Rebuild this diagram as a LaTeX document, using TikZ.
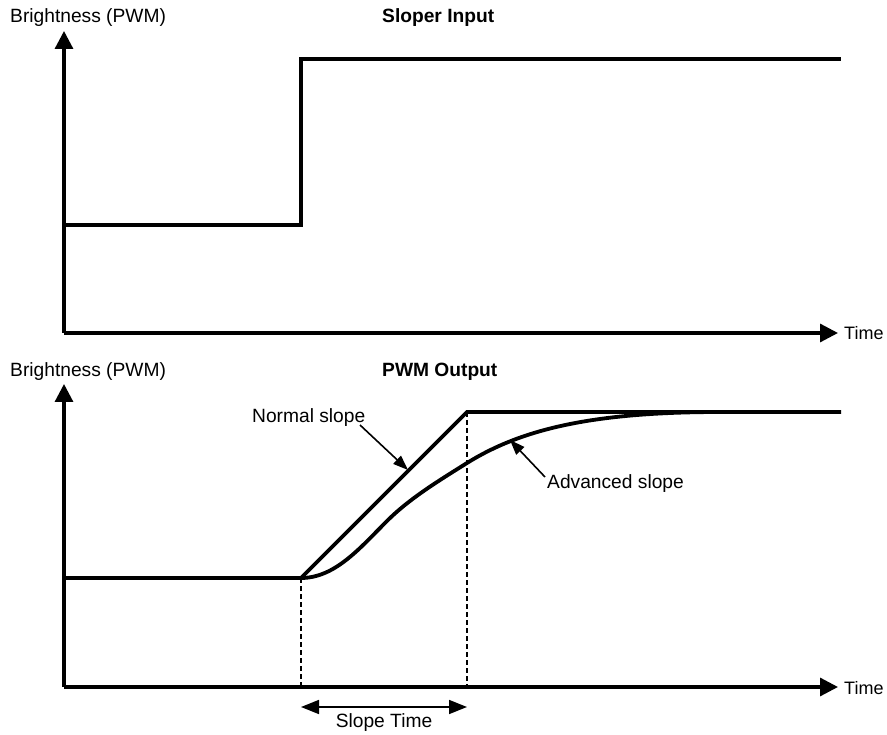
\documentclass[tikz,border=0pt]{standalone}
\usepackage{fontspec}
\setmainfont{Liberation Sans}
\usetikzlibrary{arrows.meta}
\begin{document}
\begin{tikzpicture}[x=1pt,y=-1pt,
  axis/.style={line width=3.2pt,line join=miter,-{Triangle[length=18pt,width=18pt]}},
  signal/.style={line width=3.8pt,line join=miter},
  guide/.style={line width=1.2pt,dash pattern=on 5pt off 3pt},
  callout/.style={line width=1.6pt,-{Triangle[length=15pt,width=11pt]}},
  span/.style={line width=1.6pt,{Triangle[length=18pt,width=14pt]}-{Triangle[length=18pt,width=14pt]}},
  lbl/.style={inner sep=0pt,anchor=base west,font=\fontsize{19.2}{22}\selectfont},
  ttl/.style={lbl,font=\fontsize{19.2}{22}\selectfont\bfseries},
  tlbl/.style={lbl,font=\fontsize{18}{22}\selectfont}]
\useasboundingbox (0,0) rectangle (887,735);

% ---------- upper chart: sloper input ----------
\coordinate (o1) at (64,333);
\coordinate (ytop1) at (64,31);
\coordinate (xend1) at (838,333);
\draw[axis] (o1) -- (ytop1);
\draw[axis] (o1) -- (xend1);
\node[lbl] (ylab1) at (10,23) {Brightness (PWM)};
\node[ttl] (title1) at (382,23) {Sloper Input};
\node[tlbl] (tlab1) at (844,340) {Time};
\draw[signal] (64,225) -- (301,225) -- (301,59) -- (841,59);

% ---------- lower chart: PWM output ----------
\coordinate (o2) at (64,687);
\coordinate (ytop2) at (64,384);
\coordinate (xend2) at (838,687);
\draw[axis] (o2) -- (ytop2);
\draw[axis] (o2) -- (xend2);
\node[lbl] (ylab2) at (10,377) {Brightness (PWM)};
\node[ttl] (title2) at (382,377) {PWM Output};
\node[tlbl] (tlab2) at (844,694) {Time};

\coordinate (s0) at (301,578);
\coordinate (s1) at (467,412);
% normal (linear) slope
\draw[signal] (64,578) -- (s0) -- (s1) -- (841,412);
% advanced (S-shaped) slope
\draw[signal] (s0) .. controls (335,578) and (360,548) .. (387,521)
  .. controls (410,498) and (440,480) .. (467,463)
  .. controls (520,430) and (590,412) .. (720,412);

% slope time markers
\coordinate (g0) at (301,687);
\coordinate (g1) at (467,687);
\draw[guide] (s0) -- (g0);
\draw[guide] (s1) -- (g1);
\coordinate (st0) at (301,707);
\coordinate (st1) at (467,707);
\draw[span] (st0) -- (st1);
\node[inner sep=0pt,anchor=base,font=\fontsize{19.2}{22}\selectfont] (stlab) at (384,727) {Slope Time};

% callouts
\node[lbl] (nlab) at (252,423) {Normal slope};
\coordinate (ntip) at (408,470);
\draw[callout] (360,425) -- (ntip);
\node[lbl] (alab) at (547,488) {Advanced slope};
\coordinate (atip) at (510,440);
\draw[callout] (545,477) -- (atip);
\end{tikzpicture}
\end{document}
